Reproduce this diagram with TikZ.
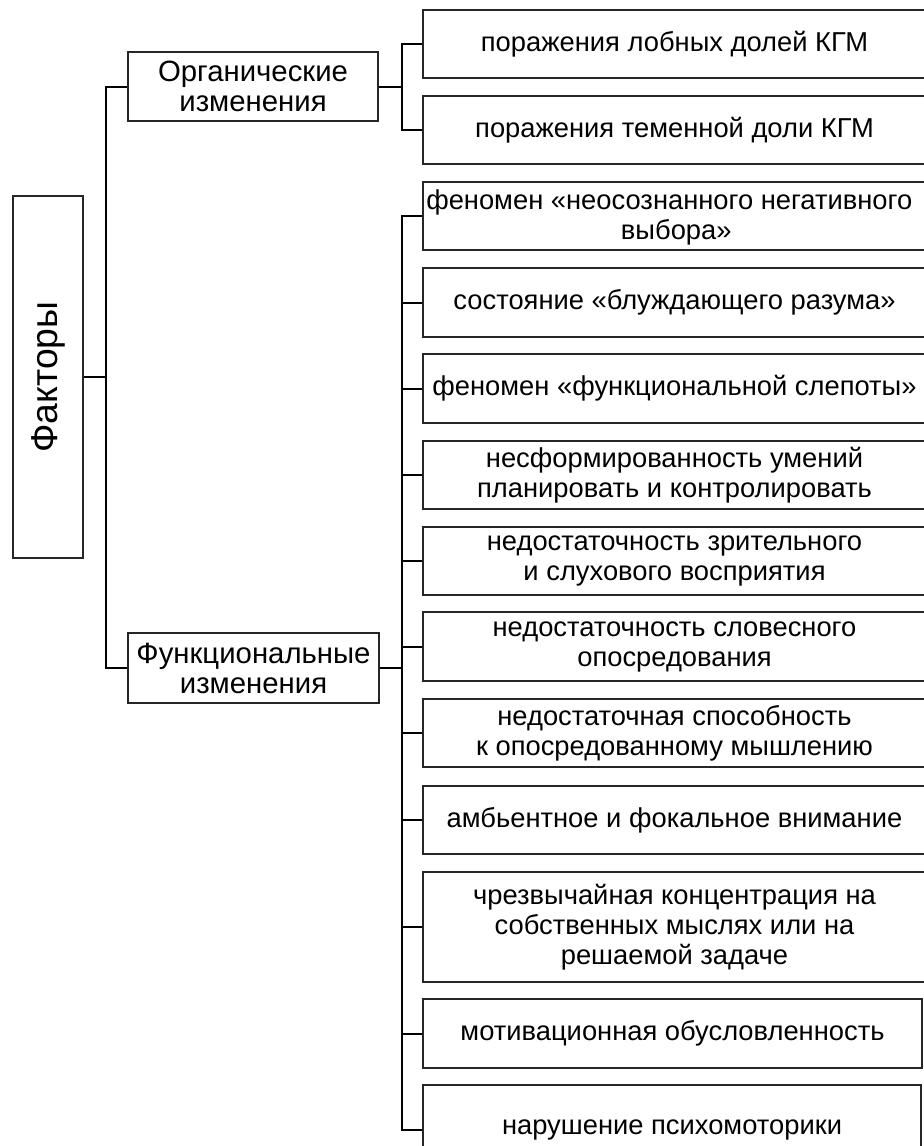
\documentclass[tikz,border=0pt]{standalone}
\usepackage{fontspec}
\usepackage{graphicx}
\setmainfont{Liberation Sans}
\newcommand\dfont{\fontsize{20.5}{22.5}\selectfont}
\newcommand\gfont{\fontsize{22}{22.5}\selectfont}
\newcommand\rfont{\fontsize{28}{30}\selectfont}
\begin{document}
\begin{tikzpicture}[x=0.75pt,y=-0.75pt,
  box/.style={draw=black!85, line width=1.2pt, inner sep=0pt, align=center, font=\dfont},
  sz/.style n args={2}{minimum width=#1*0.75pt, minimum height=#2*0.75pt},
  txt/.style={inner sep=0pt, font=\dfont},
  conn/.style={draw=black, line width=1.5pt}]
\clip (0,0) rectangle (924,1146);
\fill[white] (0,0) rectangle (924,1146);

% root and groups
\node[box, sz={70}{362}, font=\rfont] (fak) at (48,377) {\rotatebox{90}{Факторы}};
\node[box, sz={250}{69}, font=\gfont] (org) at (253,86.5) {Органические\\изменения};
\node[box, sz={251}{70}, font=\gfont] (func) at (253.5,668) {Функциональные\\изменения};

% organic leaves
\node[box, sz={503}{68}] (o1) at (674.5,44) {поражения лобных долей КГМ};
\node[box, sz={503}{68}] (o2) at (674.5,130) {поражения теменной доли КГМ};

% functional leaves
\node[box, sz={503}{68}] (f1) at (674.5,216) {};
\node[txt, align=left, anchor=west] (f1t) at (426,217) {феномен «неосознанного негативного\\\hspace*{146pt}выбора»};
\node[box, sz={503}{69}] (f2) at (674.5,302.5) {состояние «блуждающего разума»};
\node[box, sz={503}{69}] (f3) at (674.5,388.5) {феномен «функциональной слепоты»};
\node[box, sz={503}{68}] (f4) at (674.5,475) {несформированность умений\\планировать и контролировать};
\node[box, sz={503}{68}] (f5) at (674.5,561) {недостаточность зрительного\\и слухового восприятия};
\node[box, sz={503}{69}] (f6) at (674.5,646.5) {недостаточность словесного\\опосредования};
\node[box, sz={503}{68}] (f7) at (674.5,733) {недостаточная способность\\к опосредованному мышлению};
\node[box, sz={503}{68}] (f8) at (674.5,820) {амбьентное и фокальное внимание};
\node[box, sz={503}{110}] (f9) at (674.5,927) {чрезвычайная концентрация на\\собственных мыслях или на\\решаемой задаче};
\node[box, sz={499}{69}] (f10) at (672.5,1033.5) {мотивационная обусловленность};
\node[box, sz={498}{90}] (f11) at (672,1130) {нарушение психомоторики};

% connector rails
\coordinate (sp) at (106,0);
\coordinate (ob) at (402,0);
\coordinate (fb) at (402,0);

\draw[conn] (fak.east) -- (fak.east -| sp);
\draw[conn] (org.west) -- (org.west -| sp) -- (func.west -| sp) -- (func.west);

\draw[conn] (org.east) -- (org.east -| ob);
\draw[conn] (o1.west) -- (o1.west -| ob) -- (o2.west -| ob) -- (o2.west);

\draw[conn] (func.east) -- (func.east -| fb);
\draw[conn] (f1.west) -- (f1.west -| fb) -- (f11.west -| fb) -- (f11.west);
\foreach \n in {f2,f3,f4,f5,f6,f7,f8,f9,f10}
  \draw[conn] (\n.west) -- (\n.west -| fb);
\end{tikzpicture}
\end{document}
